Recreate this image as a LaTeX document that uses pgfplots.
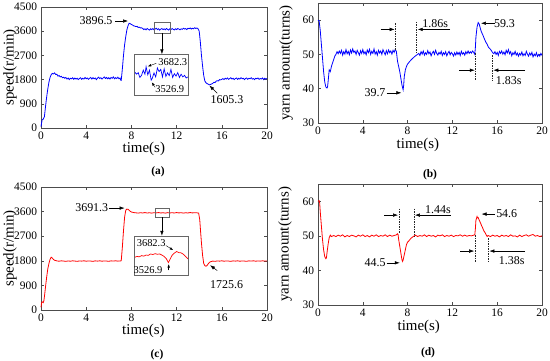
\documentclass[border=0pt]{standalone}
\usepackage{pgfplots}
\pgfplotsset{compat=1.18}
\usetikzlibrary{arrows.meta}
\usepackage{fontspec}
\setmainfont{Liberation Serif}

\pgfplotsset{
  myax/.style={
    scale only axis, anchor=south west,
    xmin=0,xmax=20, xtick={0,4,...,20},
    axis line style={black!70, line width=0.6bp},
    every tick/.style={black!70, line width=0.5bp},
    major tick length=3bp,
    tick align=inside,
    ticklabel style={font=\fontsize{11.5}{12}\selectfont, inner sep=1bp},
    xticklabel style={yshift=-2.8bp},
    yticklabel style={xshift=-2.8bp},
    /pgf/number format/assume math mode=true,
    /pgf/number format/1000 sep={},
    label style={font=\fontsize{15}{16}\selectfont, inner sep=0pt},
    clip=false,
  },
}
\tikzset{
  ann/.style={font=\fontsize{12}{13}\selectfont, inner sep=0pt},
  annsmall/.style={font=\fontsize{10.5}{11}\selectfont, inner sep=0pt},
  arr/.style={-{Latex[length=5bp,width=3.5bp]}, line width=0.5bp, black},
  arrs/.style={-{Latex[length=3.5bp,width=2.5bp]}, line width=0.4bp, black},
  dsh/.style={line width=0.6bp, black!85, dash pattern=on 1.5bp off 1bp},
  boxs/.style={black!60, line width=0.6bp},
}

\begin{document}
\begin{tikzpicture}
\useasboundingbox (0,0) rectangle (550bp,361bp);

% ---------------- (a)
\begin{axis}[myax, at={(41bp,233bp)}, width=226bp, height=121bp,
  ymin=0, ymax=4500, ytick={0,900,...,4500},
  xlabel={time(s)}, ylabel={speed(r/min)},
  xlabel style={at={(axis description cs:0.455,-0.174)}, anchor=center},
  ylabel style={at={(axis description cs:-0.137,0.5)}, anchor=center}]
\addplot[blue, line width=0.8bp] coordinates {
(0,50)(0.05,180)(0.1,300)(0.2,330)(0.3,420)(0.4,800)(0.5,1150)(0.6,1450)(0.7,1700)(0.8,1880)(0.9,1980)
(1.0,2030)(1.1,2010)(1.2,2050)(1.3,1990)(1.4,2000)(1.5,1930)(1.6,1950)(1.7,1900)(1.8,1920)(1.9,1870)
(2.0,1890)(2.1,1850)(2.2,1880)(2.3,1820)(2.4,1860)(2.5,1800)(2.6,1850)(2.7,1830)(2.8,1870)(2.9,1810)
(3.0,1860)(3.1,1820)(3.2,1850)(3.3,1800)(3.4,1840)(3.5,1870)(3.6,1810)(3.7,1850)(3.8,1820)(3.9,1880)
(4.0,1830)(4.1,1860)(4.2,1810)(4.3,1850)(4.4,1880)(4.5,1820)(4.6,1870)(4.7,1830)(4.8,1860)(4.9,1800)
(5.0,1850)(5.1,1890)(5.2,1840)(5.3,1870)(5.4,1820)(5.5,1860)(5.6,1900)(5.7,1840)(5.8,1880)(5.9,1830)
(6.0,1870)(6.1,1820)(6.2,1880)(6.3,1850)(6.4,1900)(6.5,1830)(6.6,1870)(6.7,1840)(6.8,1890)(6.9,1830)
(7.0,1860)(7.05,1780)(7.1,1770)(7.2,2200)(7.3,2700)(7.4,3100)(7.5,3400)(7.6,3650)(7.7,3800)(7.8,3896)
(7.9,3880)(8.0,3850)(8.1,3830)(8.2,3800)(8.3,3790)(8.4,3770)(8.5,3780)(8.6,3740)(8.7,3750)(8.8,3720)(8.9,3730)
(9.0,3700)(9.1,3660)(9.2,3690)(9.3,3650)(9.4,3700)(9.5,3670)(9.6,3640)(9.7,3690)(9.8,3660)(9.9,3700)
(10.0,3650)(10.1,3680)(10.2,3710)(10.3,3660)(10.4,3690)(10.5,3640)(10.6,3680)(10.7,3700)(10.8,3660)(10.9,3690)
(11.0,3650)(11.1,3700)(11.2,3670)(11.3,3640)(11.4,3690)(11.5,3660)(11.6,3700)(11.7,3670)(11.8,3650)(11.9,3690)
(12.0,3660)(12.1,3700)(12.2,3680)(12.3,3650)(12.4,3690)(12.5,3670)(12.6,3710)(12.7,3680)(12.8,3700)(12.9,3660)
(13.0,3710)(13.1,3690)(13.2,3720)(13.3,3680)(13.4,3710)(13.5,3690)(13.6,3730)(13.7,3700)(13.8,3720)(13.9,3690)
(14.0,3600)(14.1,3200)(14.2,2700)(14.3,2300)(14.4,1950)(14.5,1750)(14.6,1680)(14.7,1650)(14.8,1630)(14.9,1605)
(15.0,1620)(15.1,1640)(15.2,1660)(15.3,1700)(15.4,1690)(15.5,1740)(15.6,1760)(15.7,1750)(15.8,1800)(15.9,1790)
(16.0,1810)(16.1,1840)(16.2,1800)(16.3,1850)(16.4,1820)(16.5,1860)(16.6,1810)(16.7,1840)(16.8,1870)(16.9,1820)
(17.0,1850)(17.1,1800)(17.2,1840)(17.3,1860)(17.4,1810)(17.5,1850)(17.6,1820)(17.7,1870)(17.8,1830)(17.9,1850)
(18.0,1800)(18.1,1840)(18.2,1860)(18.3,1810)(18.4,1850)(18.5,1830)(18.6,1870)(18.7,1820)(18.8,1840)(18.9,1800)
(19.0,1850)(19.1,1830)(19.2,1860)(19.3,1810)(19.4,1840)(19.5,1820)(19.6,1860)(19.7,1800)(19.8,1850)(19.9,1820)(20.0,1840)
};
\addplot[blue, line width=0.7bp] coordinates {
(8.3,2080)(8.45,2000)(8.6,2060)(8.75,1880)(8.9,1960)(9.05,2150)(9.2,2000)(9.3,2280)(9.45,1980)(9.6,2150)
(9.75,1780)(9.85,1850)(10.0,2050)(10.15,1900)(10.3,2230)(10.45,2100)(10.6,2180)(10.75,1900)(10.9,2200)
(11.05,1920)(11.2,2050)(11.35,1950)(11.5,2180)(11.65,1880)(11.8,2020)(11.95,1930)(12.1,2060)(12.25,1880)
(12.4,2000)(12.55,1900)(12.7,1960)(12.85,1860)(13.0,1900)
};
\node[ann] at (axis cs:4.87,3979) {3896.5};
\draw[arr] (axis cs:6.55,3979) -- (axis cs:7.7,3979);
\draw[boxs] (axis cs:10.0,3520) rectangle (axis cs:11.4,3920);
\draw[arr] (axis cs:10.7,3520) -- (axis cs:10.7,2740);
\draw[boxs] (axis cs:8.25,1230) rectangle (axis cs:13.05,2740);
\node[annsmall] at (axis cs:11.66,2466) {3682.3};
\draw[arrs] (axis cs:10.2,2406) -- (axis cs:9.45,2290);
\node[annsmall] at (axis cs:11.4,1440) {3526.9};
\draw[arrs] (axis cs:10.1,1513) -- (axis cs:9.8,1700);
\node[ann] at (axis cs:16.46,1041) {1605.3};
\draw[arr] (axis cs:15.6,1290) -- (axis cs:14.9,1580);
\end{axis}

% ---------------- (b)
\begin{axis}[myax, at={(318bp,238bp)}, width=224bp, height=120bp,
  ymin=30, ymax=65, ytick={30,40,50,60},
  xlabel={time(s)}, ylabel={yarn amount(turns)},
  xlabel style={at={(axis description cs:0.446,-0.18)}, anchor=center},
  ylabel style={at={(axis description cs:-0.143,0.5)}, anchor=center}]
\addplot[blue, line width=0.8bp] coordinates {
(0,60)(0.1,59.8)(0.2,57)(0.3,53)(0.4,49)(0.5,45)(0.6,42)(0.7,40.5)(0.8,40.2)(0.85,40.5)(0.9,42)
(1.0,45.5)(1.1,45)(1.2,46.5)(1.3,47.5)(1.4,48.5)(1.5,49.5)(1.6,50)(1.7,50.8)
(1.8,50.2)(1.9,51)(2.0,50.3)(2.1,51.2)(2.2,49.8)(2.3,50.8)(2.4,50.1)(2.5,51.4)(2.6,50.2)(2.7,50.9)(2.8,49.9)(2.9,51.3)
(3.0,50.4)(3.1,51.6)(3.2,50.6)(3.3,51.0)(3.4,50.0)(3.5,51.2)(3.6,50.5)(3.7,49.8)(3.8,51.1)(3.9,50.3)
(4.0,51.4)(4.1,50.2)(4.2,50.8)(4.3,49.9)(4.4,51.3)(4.5,50.5)(4.6,51.5)(4.7,50.0)(4.8,50.9)(4.9,50.3)
(5.0,51.6)(5.1,50.1)(5.2,50.8)(5.3,49.8)(5.4,51.2)(5.5,50.4)(5.6,51.0)(5.7,50.0)(5.8,51.4)(5.9,50.6)
(6.0,49.9)(6.1,51.1)(6.2,50.2)(6.3,51.3)(6.4,50.5)(6.5,51.0)(6.6,50.1)(6.7,51.2)(6.8,50.6)(6.9,51.5)(7.0,50.8)
(7.1,48)(7.2,46.5)(7.3,45)(7.4,43)(7.5,41)(7.6,39.7)(7.65,41)(7.7,43.5)(7.8,45.5)(7.9,46.5)(8.0,47.2)
(8.2,48)(8.4,48.7)(8.6,49.3)(8.8,49.8)
(9.0,50.3)(9.1,49.7)(9.2,50.8)(9.3,50.1)(9.4,51.0)(9.5,49.8)(9.6,50.5)(9.7,50.0)(9.8,51.1)(9.9,50.2)
(10.0,50.7)(10.1,49.6)(10.2,50.4)(10.3,50.9)(10.4,50.0)(10.5,51.2)(10.6,50.3)(10.7,49.8)(10.8,50.6)(10.9,50.1)
(11.0,50.9)(11.1,49.7)(11.2,50.5)(11.3,50.0)(11.4,50.8)(11.5,49.6)(11.6,50.4)(11.7,50.9)(11.8,49.9)(11.9,50.6)
(12.0,50.2)(12.1,49.5)(12.2,50.5)(12.3,49.8)(12.4,50.7)(12.5,50.0)(12.6,50.6)(12.7,49.7)(12.8,50.9)(12.9,50.1)
(13.0,50.5)(13.1,49.8)(13.2,50.8)(13.3,50.2)(13.4,51.0)(13.5,50.3)(13.6,50.8)(13.7,50.4)(13.8,51.0)(13.9,50.6)
(14.0,50)(14.05,52)(14.1,55)(14.2,58)(14.3,59.3)(14.4,58.8)(14.5,57.5)(14.6,56.5)(14.7,55.8)(14.8,55)
(14.9,54.2)(15.0,53.5)(15.1,53)(15.2,52.2)(15.3,51.8)(15.4,51.5)(15.5,51)(15.6,50.5)
(15.7,50.2)(15.8,50.8)(15.9,50.0)(16.0,50.6)(16.1,49.7)(16.2,50.9)(16.3,50.3)(16.4,51.0)(16.5,50.1)(16.6,50.7)
(16.7,49.9)(16.8,51.2)(16.9,50.4)(17.0,51.4)(17.1,50.2)(17.2,50.8)(17.3,49.6)(17.4,50.5)(17.5,50.0)(17.6,50.9)
(17.7,49.8)(17.8,50.4)(17.9,49.5)(18.0,50.3)(18.1,49.8)(18.2,50.7)(18.3,49.6)(18.4,50.2)(18.5,49.7)(18.6,50.9)
(18.7,50.1)(18.8,49.5)(18.9,50.4)(19.0,49.8)(19.1,50.6)(19.2,49.3)(19.3,50.1)(19.4,49.6)(19.5,50.5)(19.6,49.4)
(19.7,50.0)(19.8,49.5)(19.9,50.3)(20.0,49.7)
};
\draw[dsh] (axis cs:6.94,59.1) -- (axis cs:6.94,51.3);
\draw[dsh] (axis cs:8.81,59.5) -- (axis cs:8.81,50.3);
\draw[arr] (axis cs:5.6,57.3) -- (axis cs:6.85,57.3);
\draw[arr] (axis cs:11.8,57.3) -- (axis cs:8.9,57.3);
\node[ann, anchor=west] at (axis cs:9.3,59.1) {1.86s};
\draw[dsh] (axis cs:14.08,50.3) -- (axis cs:14.08,42.5);
\draw[dsh] (axis cs:15.56,49.8) -- (axis cs:15.56,42.5);
\draw[arr] (axis cs:12.6,45.4) -- (axis cs:14.0,45.4);
\draw[arr] (axis cs:18.5,45.4) -- (axis cs:15.65,45.4);
\node[ann] at (axis cs:17.03,42.5) {1.83s};
\node[ann] at (axis cs:16.65,59.1) {59.3};
\draw[arr] (axis cs:15.8,59.1) -- (axis cs:14.55,59.1);
\node[ann] at (axis cs:5.09,38.8) {39.7};
\draw[arr] (axis cs:6.13,38.8) -- (axis cs:7.45,38.8);
\end{axis}

% ---------------- (c)
\begin{axis}[myax, at={(41bp,51bp)}, width=226bp, height=123bp,
  ymin=0, ymax=4500, ytick={0,900,...,4500},
  xlabel={time(s)}, ylabel={speed(r/min)},
  xlabel style={at={(axis description cs:0.453,-0.171)}, anchor=center},
  ylabel style={at={(axis description cs:-0.137,0.5)}, anchor=center}]
\addplot[red, line width=0.8bp] coordinates {
(0,100)(0.05,250)(0.1,300)(0.2,270)(0.25,330)(0.3,480)(0.4,850)(0.5,1200)(0.6,1500)(0.7,1700)(0.8,1850)
(0.9,1930)(1.0,1900)(1.1,1850)(1.2,1820)(1.3,1810)(1.4,1795)
(1.6,1785)(1.8,1800)(2.0,1790)(2.2,1780)(2.4,1795)(2.6,1785)(2.8,1800)(3.0,1790)(3.2,1780)(3.4,1795)
(3.6,1788)(3.8,1800)(4.0,1785)(4.2,1795)(4.4,1790)(4.6,1780)(4.8,1798)(5.0,1788)(5.2,1800)(5.4,1785)
(5.6,1795)(5.8,1790)(6.0,1782)(6.2,1798)(6.4,1790)(6.6,1800)(6.8,1788)(7.0,1795)(7.1,1800)
(7.2,2300)(7.3,2900)(7.4,3400)(7.5,3650)(7.6,3691)(7.7,3685)(7.8,3650)(7.9,3610)(8.0,3585)(8.2,3565)
(8.4,3555)(8.6,3545)(8.8,3560)(9.0,3550)(9.2,3565)(9.4,3548)(9.6,3558)(9.8,3545)(10.0,3560)(10.2,3552)
(10.4,3565)(10.6,3550)(10.8,3558)(11.0,3545)(11.2,3562)(11.4,3550)(11.6,3560)(11.8,3548)(12.0,3565)
(12.2,3552)(12.4,3560)(12.6,3545)(12.8,3558)(13.0,3550)(13.2,3565)(13.4,3552)(13.6,3560)(13.8,3555)(13.95,3545)
(14.05,3300)(14.1,3000)(14.2,2450)(14.3,2000)(14.4,1700)(14.5,1620)(14.6,1600)(14.7,1630)(14.8,1690)
(14.9,1740)(15.0,1765)(15.2,1790)
(15.4,1780)(15.6,1795)(15.8,1788)(16.0,1800)(16.2,1785)(16.4,1795)(16.6,1790)(16.8,1780)(17.0,1798)
(17.2,1788)(17.4,1800)(17.6,1785)(17.8,1795)(18.0,1790)(18.2,1782)(18.4,1798)(18.6,1790)(18.8,1800)
(19.0,1785)(19.2,1795)(19.4,1788)(19.6,1800)(19.8,1790)(20.0,1795)
};
\addplot[red, line width=0.7bp] coordinates {
(8.3,1930)(8.5,1960)(8.7,1945)(8.9,1990)(9.1,1970)(9.3,2010)(9.5,2000)(9.7,2050)(9.9,2030)(10.1,2060)
(10.3,2040)(10.5,2050)(10.7,2010)(10.9,1960)(11.1,1870)(11.27,1735)(11.45,1880)(11.6,2000)(11.8,2080)
(12.0,2140)(12.2,2100)(12.4,2090)(12.6,2040)(12.8,1960)(13.0,1870)
};
\node[ann] at (axis cs:4.49,3729) {3691.3};
\draw[arr] (axis cs:6.0,3729) -- (axis cs:7.4,3729);
\draw[boxs] (axis cs:10.1,3399) rectangle (axis cs:11.33,3729);
\draw[arr] (axis cs:10.7,3399) -- (axis cs:10.7,2714);
\draw[boxs] (axis cs:8.26,1258) rectangle (axis cs:13.07,2714);
\node[annsmall] at (axis cs:9.75,2457) {3682.3};
\draw[arrs] (axis cs:11.05,2360) -- (axis cs:11.7,2190);
\node[annsmall] at (axis cs:9.47,1467) {3526.9};
\draw[arrs] (axis cs:11.3,1450) -- (axis cs:11.3,1680);
\node[ann] at (axis cs:16.43,942) {1725.6};
\draw[arr] (axis cs:15.6,1441) -- (axis cs:14.96,1640);
\end{axis}

% ---------------- (d)
\begin{axis}[myax, at={(318bp,56bp)}, width=224bp, height=121bp,
  ymin=30, ymax=65, ytick={30,40,50,60},
  xlabel={time(s)}, ylabel={yarn amount(turns)},
  xlabel style={at={(axis description cs:0.45,-0.177)}, anchor=center},
  ylabel style={at={(axis description cs:-0.147,0.5)}, anchor=center}]
\addplot[red, line width=0.8bp] coordinates {
(0,60)(0.1,60.2)(0.15,59.5)(0.2,57)(0.3,53)(0.4,49)(0.5,46)(0.6,44)(0.7,43.4)(0.75,43.6)(0.8,45)
(0.9,47.5)(1.0,49.5)(1.1,50.2)(1.2,49.8)
(1.4,50.1)(1.6,49.8)(1.8,50.2)(2.0,49.9)(2.2,50.3)(2.4,49.7)(2.6,50.1)(2.8,49.8)(3.0,50.2)(3.2,50.0)
(3.4,49.7)(3.6,50.2)(3.8,49.9)(4.0,50.3)(4.2,49.8)(4.4,50.1)(4.6,49.7)(4.8,50.2)(5.0,49.9)(5.2,50.3)
(5.4,49.8)(5.6,50.1)(5.8,49.9)(6.0,50.3)(6.2,49.8)(6.4,50.2)(6.6,49.9)(6.8,50.1)(7.0,50.3)
(7.1,50.6)(7.15,50.4)(7.2,49)(7.3,47)(7.4,45)(7.5,43)(7.55,42.6)(7.6,43)(7.7,44.5)(7.8,46)(7.9,47.5)
(8.0,48.2)(8.1,48.5)(8.3,49.3)(8.5,49.8)
(8.7,50.2)(8.9,49.8)(9.1,50.1)(9.3,49.9)(9.5,50.3)(9.7,49.8)(9.9,50.2)(10.1,49.9)(10.3,50.1)(10.5,49.7)
(10.7,50.2)(10.9,50.0)(11.1,50.3)(11.3,49.8)(11.5,50.1)(11.7,49.9)(11.9,50.2)(12.1,49.8)(12.3,50.1)
(12.5,50.0)(12.7,50.3)(12.9,49.9)(13.1,50.2)(13.3,49.9)(13.5,50.1)(13.7,50.0)(13.9,50.2)
(14.0,50.3)(14.05,52)(14.1,54.5)(14.2,55.6)(14.25,55.2)(14.3,55.3)(14.4,54.5)(14.5,53.8)(14.6,53)
(14.7,52.3)(14.8,51.5)(14.9,51)(15.0,50.4)(15.1,49.8)(15.2,50.1)
(15.4,49.8)(15.6,50.2)(15.8,49.9)(16.0,50.1)(16.2,49.7)(16.4,50.2)(16.6,49.9)(16.8,50.1)(17.0,49.8)
(17.2,50.3)(17.4,49.9)(17.6,50.0)(17.8,49.7)(18.0,50.2)(18.2,49.8)(18.4,50.1)(18.6,50.3)(18.8,49.9)
(19.0,50.2)(19.2,50.4)(19.4,49.9)(19.6,50.1)(19.8,49.8)(20.0,50.0)
};
\draw[dsh] (axis cs:7.23,57.9) -- (axis cs:7.23,50.7);
\draw[dsh] (axis cs:8.57,57.9) -- (axis cs:8.57,49.9);
\draw[arr] (axis cs:5.9,56) -- (axis cs:7.15,56);
\draw[arr] (axis cs:11.85,56) -- (axis cs:8.65,56);
\node[ann, anchor=west] at (axis cs:9.55,57.5) {1.44s};
\draw[dsh] (axis cs:14.02,50.2) -- (axis cs:14.02,42.5);
\draw[dsh] (axis cs:15.2,49.3) -- (axis cs:15.2,42.5);
\draw[arr] (axis cs:12.7,45.6) -- (axis cs:13.95,45.6);
\draw[arr] (axis cs:18.5,45.6) -- (axis cs:15.3,45.6);
\node[ann] at (axis cs:17.3,42.7) {1.38s};
\node[ann] at (axis cs:16.85,56.3) {54.6};
\draw[arr] (axis cs:15.8,56.3) -- (axis cs:14.6,56.3);
\node[ann] at (axis cs:5.1,42.2) {44.5};
\draw[arr] (axis cs:6.13,42.2) -- (axis cs:7.3,42.2);
\end{axis}

\node[font=\bfseries\fontsize{11.5}{12}\selectfont] at (158bp,189bp) {(a)};
\node[font=\bfseries\fontsize{11.5}{12}\selectfont] at (430bp,186bp) {(b)};
\node[font=\bfseries\fontsize{11.5}{12}\selectfont] at (157bp,6bp) {(c)};
\node[font=\bfseries\fontsize{11.5}{12}\selectfont] at (428bp,8bp) {(d)};
\end{tikzpicture}
\end{document}
